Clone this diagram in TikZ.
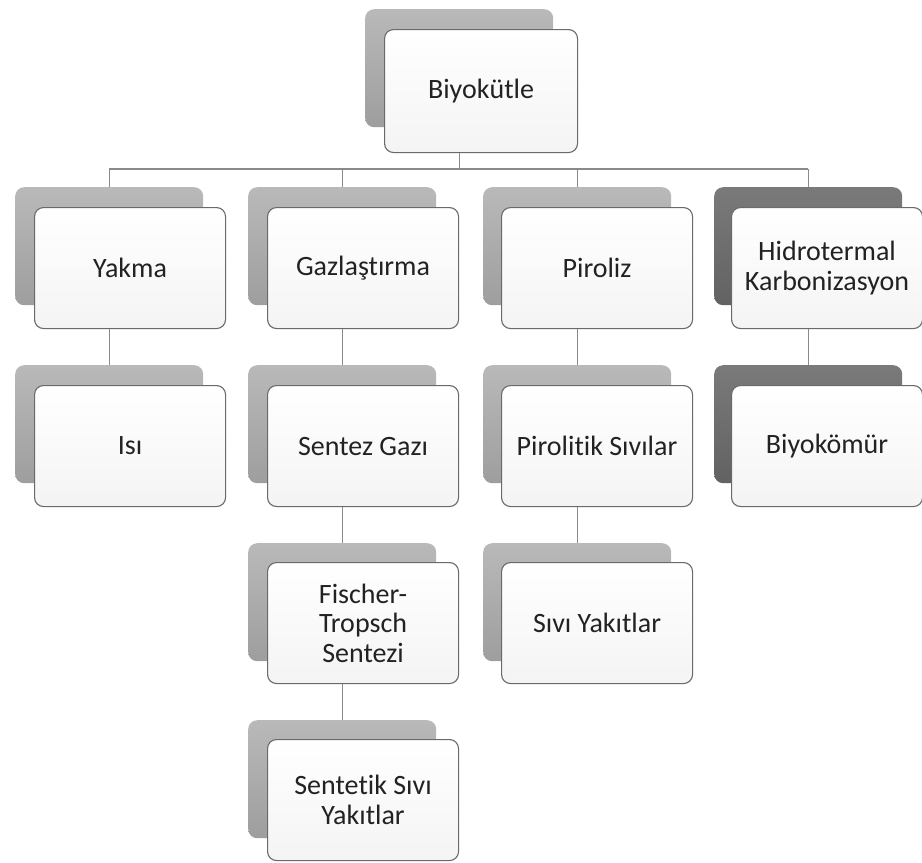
\documentclass[tikz,border=0pt]{standalone}
\usepackage{fontspec}
\setmainfont{Carlito}[Ligatures=NoCommon]
\definecolor{backtop}{HTML}{B9B9B9}
\definecolor{backbot}{HTML}{9E9E9E}
\definecolor{darktop}{HTML}{7A7A7A}
\definecolor{darkbot}{HTML}{626262}
\definecolor{framegray}{HTML}{6A6A6A}
\definecolor{frontbot}{HTML}{F4F4F4}
\definecolor{linegray}{HTML}{8A8A8A}
\definecolor{textgray}{HTML}{222222}
\tikzset{
  backbox/.style={draw=none, rounded corners=9pt, minimum width=188pt, minimum height=118pt,
    anchor=north west, inner sep=0pt, top color=backtop, bottom color=backbot},
  backdark/.style={backbox, top color=darktop, bottom color=darkbot},
  frontbox/.style={draw=framegray, line width=1.1pt, rounded corners=9pt, minimum width=191pt,
    minimum height=121pt, anchor=north west, inner sep=0pt, top color=white, bottom color=frontbot,
    align=center, font=\fontsize{28}{29.5}\selectfont, text=textgray},
  link/.style={draw=linegray, line width=1.1pt}
}
\begin{document}
\begin{tikzpicture}[x=1pt, y=-1pt]
\useasboundingbox (0,0) rectangle (922,863);
% root
\node[backbox] (bio-b) at (365,9) {};
\node[frontbox, minimum width=193pt, minimum height=123pt] (bio) at (384,29) {Biyokütle};
% column 1
\node[backbox] (yak-b) at (15,187) {};
\node[frontbox] (yak) at (34,207) {Yakma};
\node[backbox] (isi-b) at (15,365) {};
\node[frontbox] (isi) at (34,385) {Isı};
% column 2
\node[backbox] (gaz-b) at (248,187) {};
\node[frontbox] (gaz) at (267,207) {Gazlaştırma};
\node[backbox] (sen-b) at (248,365) {};
\node[frontbox] (sen) at (267,385) {Sentez Gazı};
\node[backbox] (fis-b) at (248,543) {};
\node[frontbox] (fis) at (267,562) {Fischer-\\Tropsch\\Sentezi};
\node[backbox] (sts-b) at (248,720) {};
\node[frontbox] (sts) at (267,739) {Sentetik Sıvı\\Yakıtlar};
% column 3
\node[backbox] (pir-b) at (483,187) {};
\node[frontbox] (pir) at (501,207) {Piroliz};
\node[backbox] (pls-b) at (483,365) {};
\node[frontbox] (pls) at (501,385) {Pirolitik Sıvılar};
\node[backbox] (svy-b) at (483,543) {};
\node[frontbox] (svy) at (501,562) {Sıvı Yakıtlar};
% column 4
\node[backdark] (hid-b) at (714,187) {};
\node[frontbox] (hid) at (731,207) {Hidrotermal\\Karbonizasyon};
\node[backdark] (bik-b) at (714,365) {};
\node[frontbox] (bik) at (731,385) {Biyokömür};
% connectors
\coordinate (bus) at (0,169);
\draw[link] (bio-b |- bio.south) -- (bio-b |- bus);
\draw[link] (yak-b |- bus) -- (hid-b |- bus);
\foreach \c in {yak,gaz,pir,hid} \draw[link] (\c-b |- bus) -- (\c-b.north);
\draw[link] (yak-b |- yak.south) -- (isi-b.north);
\draw[link] (gaz-b |- gaz.south) -- (sen-b.north);
\draw[link] (sen-b |- sen.south) -- (fis-b.north);
\draw[link] (fis-b |- fis.south) -- (sts-b.north);
\draw[link] (pir-b |- pir.south) -- (pls-b.north);
\draw[link] (pls-b |- pls.south) -- (svy-b.north);
\draw[link] (hid-b |- hid.south) -- (bik-b.north);
\end{tikzpicture}
\end{document}
